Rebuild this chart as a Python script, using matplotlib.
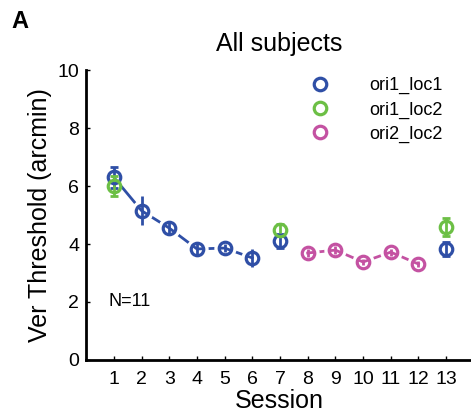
import numpy as np
import matplotlib
matplotlib.use("Agg")
import matplotlib.pyplot as plt

plt.rcParams['font.family'] = ['Liberation Sans', 'DejaVu Sans']

sessions_11 = [1, 2, 3, 4, 5, 6, 7, 13]
thr_11 = [6.3, 5.15, 4.55, 3.83, 3.86, 3.52, 4.1, 3.83]
err_11 = [0.35, 0.5, 0.2, 0.2, 0.15, 0.3, 0.25, 0.25]

sessions_12 = [1, 7, 13]
thr_12 = [6.0, 4.48, 4.59]
err_12 = [0.35, 0.2, 0.3]

sessions_22 = [8, 9, 10, 11, 12]
thr_22 = [3.69, 3.79, 3.38, 3.72, 3.31]
err_22 = [0.15, 0.15, 0.1, 0.12, 0.12]

capped = [1, 7, 13]

c_blue = '#2f4fa6'
c_green = '#6cbf45'
c_mag = '#c452a2'


def draw(ax, x, y, e, col, lab, line_n):
    x = np.array(x)
    y = np.array(y)
    e = np.array(e)
    if line_n > 0:
        ax.plot(x[:line_n], y[:line_n], color=col, lw=2, zorder=1)
        # white rings give the gap between line and marker
        ax.plot(x[:line_n], y[:line_n], 'o', ms=13.5, mfc='none', mec='white', mew=2.6, zorder=2)
    cap = np.isin(x, capped)
    if cap.any():
        ax.errorbar(x[cap], y[cap], yerr=e[cap], fmt='none', ecolor=col, elinewidth=2,
                    capsize=3, capthick=2, zorder=3)
    if (~cap).any():
        ax.errorbar(x[~cap], y[~cap], yerr=e[~cap], fmt='none', ecolor=col, elinewidth=2,
                    capsize=0, zorder=3)
    ax.plot(x, y, 'o', ms=9, mfc='none', mec=col, mew=2.3, label=lab, zorder=4)


fig = plt.figure(figsize=(4.71, 4.2), dpi=100)
ax = fig.add_axes([0.183, 0.143, 0.82, 0.69])

draw(ax, sessions_11, thr_11, err_11, c_blue, 'ori1_loc1', 6)
draw(ax, sessions_12, thr_12, err_12, c_green, 'ori1_loc2', 0)
draw(ax, sessions_22, thr_22, err_22, c_mag, 'ori2_loc2', 5)

ax.set_xlim(0, 13.95)
ax.set_ylim(0, 10)
ax.set_xticks(range(1, 14))
ax.set_yticks([0, 2, 4, 6, 8, 10])
ax.tick_params(direction='in', length=3, width=1, labelsize=14, pad=5)
ax.tick_params(axis='x', pad=8)
for s in ['top', 'right']:
    ax.spines[s].set_visible(False)
for s in ['left', 'bottom']:
    ax.spines[s].set_linewidth(2)

ax.set_xlabel('Session', fontsize=18, labelpad=1)
ax.set_ylabel('Ver Threshold (arcmin)', fontsize=18, labelpad=4)
ax.set_title('All subjects', fontsize=18, pad=14)
ax.text(0.8, 2.0, 'N=11', fontsize=13, va='center')

ax.legend(loc='upper right', bbox_to_anchor=(0.955, 1.02), frameon=False, fontsize=13,
          handletextpad=1.7, labelspacing=0.4, handlelength=2, borderaxespad=0.3)

fig.text(0.025, 0.933, 'A', fontsize=17, fontweight='bold')

fig.savefig('out.png', dpi=100)
